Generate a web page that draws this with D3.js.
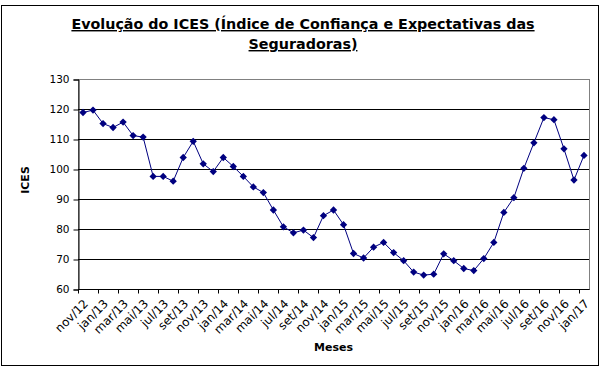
<!DOCTYPE html>
<meta charset="utf-8">
<script src="https://d3js.org/d3.v7.min.js"></script>
<style>
  body { margin:0; background:#fff; }
  text { font-family: "DejaVu Sans", Verdana, sans-serif; }
</style>
<div id="my_dataviz"></div>
<script>

// months nov/12 .. jan/17
var meses = ["nov/12","dez/12",
  "jan/13","fev/13","mar/13","abr/13","mai/13","jun/13","jul/13","ago/13","set/13","out/13","nov/13","dez/13",
  "jan/14","fev/14","mar/14","abr/14","mai/14","jun/14","jul/14","ago/14","set/14","out/14","nov/14","dez/14",
  "jan/15","fev/15","mar/15","abr/15","mai/15","jun/15","jul/15","ago/15","set/15","out/15","nov/15","dez/15",
  "jan/16","fev/16","mar/16","abr/16","mai/16","jun/16","jul/16","ago/16","set/16","out/16","nov/16","dez/16",
  "jan/17"];

var ices = [119.0, 119.8,
  115.3, 114.0, 115.8, 111.3, 110.8, 97.7, 97.7, 96.1, 104.0, 109.4, 101.9, 99.3,
  104.0, 101.0, 97.7, 94.2, 92.3, 86.5, 80.9, 78.9, 79.8, 77.3, 84.6, 86.5,
  81.6, 72.0, 70.5, 74.1, 75.7, 72.3, 69.6, 65.8, 64.8, 65.1, 71.9, 69.6,
  67.0, 66.3, 70.3, 75.7, 85.7, 90.6, 100.4, 108.9, 117.3, 116.6, 106.9, 96.5,
  104.7];

var yTicks = [60, 70, 80, 90, 100, 110, 120, 130];

var data = meses.map(function(m, i) { return {mes: m, value: ices[i]}; });

var W = 605, H = 372;
var pLeft = 78, pRight = 589, pTop = 79.5, pBottom = 289.5;

var svg = d3.select("#my_dataviz")
  .append("svg")
  .attr("width", W)
  .attr("height", H);

// outer frame
svg.append("rect")
  .attr("x", 1.5).attr("y", 5.5)
  .attr("width", 597).attr("height", 360)
  .attr("fill", "white")
  .attr("stroke", "black")
  .attr("stroke-width", 1);

var x = d3.scaleBand()
  .domain(meses)
  .range([pLeft, pRight])
  .padding(0);

var y = d3.scaleLinear()
  .domain([60, 130])
  .range([pBottom, pTop]);

// plot area border (gray)
svg.append("rect")
  .attr("x", pLeft + 0.5).attr("y", pTop)
  .attr("width", pRight - pLeft).attr("height", pBottom - pTop)
  .attr("fill", "none")
  .attr("stroke", "#808080");

// gridlines
svg.append("g")
  .selectAll("line")
  .data(yTicks.filter(function(d) { return d > 60 && d < 130; }))
  .enter()
  .append("line")
  .attr("x1", pLeft).attr("x2", pRight)
  .attr("y1", function(d) { return y(d); })
  .attr("y2", function(d) { return y(d); })
  .attr("stroke", "black");

// y axis
var yAxis = svg.append("g")
  .attr("transform", "translate(" + (pLeft + 0.5) + ",0)")
  .call(d3.axisLeft(y).tickValues(yTicks).tickSize(5).tickPadding(4));
yAxis.select(".domain").attr("stroke", "black");
yAxis.selectAll("text")
  .style("font-family", "'DejaVu Sans', Verdana, sans-serif")
  .style("font-size", "10.5px")
  .attr("fill", "black");

// x axis: ticks every 2 categories at band edges
var xAxisG = svg.append("g");
xAxisG.append("line")
  .attr("x1", pLeft).attr("x2", pRight + 0.5)
  .attr("y1", pBottom).attr("y2", pBottom)
  .attr("stroke", "black");
var labelled = meses.filter(function(d, i) { return i % 2 == 0; });
xAxisG.selectAll(".tk")
  .data(labelled)
  .enter()
  .append("line")
  .attr("class", "tk")
  .attr("x1", function(d) { return Math.round(x(d)) + 0.5; })
  .attr("x2", function(d) { return Math.round(x(d)) + 0.5; })
  .attr("y1", pBottom).attr("y2", pBottom + 4)
  .attr("stroke", "black");
xAxisG.selectAll(".lb")
  .data(labelled)
  .enter()
  .append("text")
  .attr("class", "lb")
  .attr("transform", function(d) {
    return "translate(" + (x(d) + x.bandwidth() / 2) + "," + (pBottom + 9) + ") rotate(-45)";
  })
  .attr("text-anchor", "end")
  .attr("dy", "0.7em")
  .style("font-size", "11.8px")
  .text(function(d) { return d; });

// line
var line = d3.line()
  .x(function(d) { return x(d.mes) + x.bandwidth() / 2; })
  .y(function(d) { return y(d.value); });

svg.append("path")
  .datum(data)
  .attr("d", line)
  .attr("fill", "none")
  .attr("stroke", "#000080")
  .attr("stroke-width", 1);

// diamond markers
svg.selectAll(".pt")
  .data(data)
  .enter()
  .append("path")
  .attr("class", "pt")
  .attr("d", d3.symbol().type(d3.symbolDiamond2).size(34))
  .attr("transform", function(d) {
    return "translate(" + (x(d.mes) + x.bandwidth() / 2) + "," + y(d.value) + ")";
  })
  .attr("fill", "#000080");

// titles
var title = svg.append("text")
  .attr("x", 303)
  .attr("text-anchor", "middle")
  .style("font-size", "14.3px")
  .style("font-weight", "bold")
  .style("text-decoration", "underline");
title.append("tspan").attr("x", 303).attr("y", 29)
  .text("Evolução do ICES (Índice de Confiança e Expectativas das");
title.append("tspan").attr("x", 303).attr("y", 49)
  .text("Seguradoras)");

svg.append("text")
  .attr("transform", "translate(29," + 180 + ") rotate(-90)")
  .attr("text-anchor", "middle")
  .style("font-size", "11px")
  .style("font-weight", "bold")
  .text("ICES");

svg.append("text")
  .attr("x", (pLeft + pRight) / 2)
  .attr("y", 351)
  .attr("text-anchor", "middle")
  .style("font-size", "11px")
  .style("font-weight", "bold")
  .text("Meses");

</script>
